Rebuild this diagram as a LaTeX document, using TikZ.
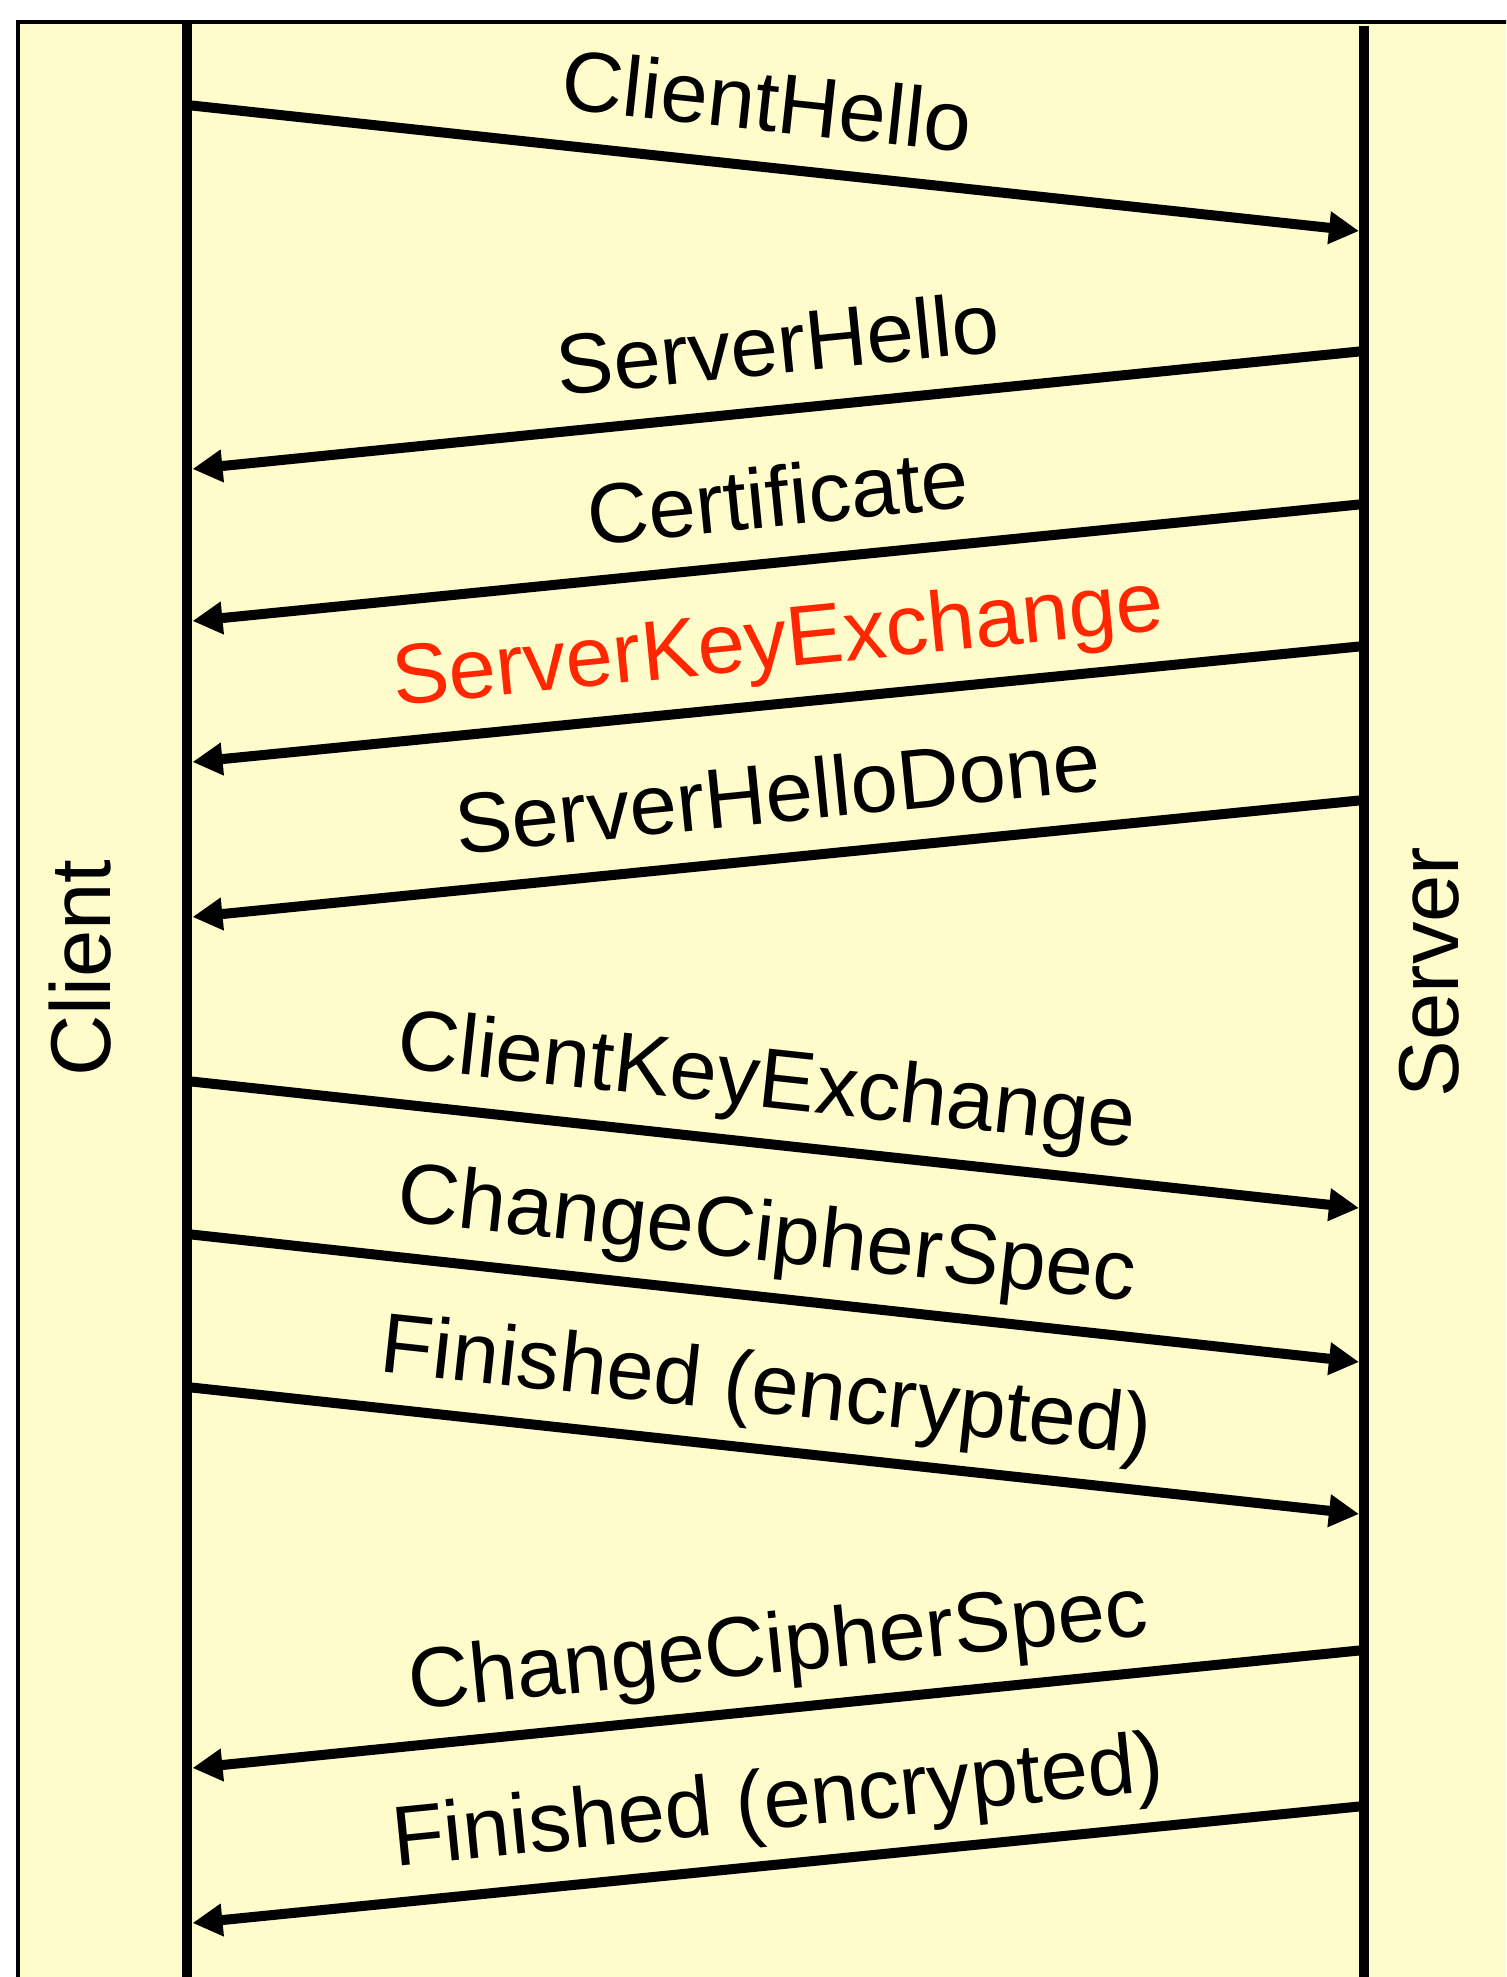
\documentclass[tikz,border=0pt]{standalone}
\usepackage{fontspec}
\setmainfont{Liberation Sans}
\usetikzlibrary{arrows.meta}
\definecolor{notepad}{RGB}{255,252,204}
\definecolor{keyred}{RGB}{255,38,0}
\begin{document}
\begin{tikzpicture}[x=0.5pt,y=-0.5pt,lifeline/.style={line width=5pt},msg/.style={line width=5pt,-{Triangle[length=15pt,width=15.5pt]}},msglabel/.style={pos=#1,sloped,above=18pt,anchor=base,inner sep=0pt,font=\fontsize{42.5}{51}\selectfont},reqlabel/.style={msglabel=0.489},replabel/.style={msglabel=0.495},party/.style={rotate=90,anchor=base,inner sep=0pt,font=\fontsize{42.5}{51}\selectfont}]
\def\cliX{187};
\def\srvX{1364};
\def\cliE{192.5};
\def\srvE{1359};

\useasboundingbox (0,0) rectangle (1506,1977);
\clip (0,0) rectangle (1506,1977);
\filldraw[fill=notepad,line width=2pt] (18,22) rectangle (1540,2010);

\node[party] (clientL) at (110,968) {Client};
\node[party] (serverL) at (1458,972) {Server};

% client -> server
\coordinate (cli1) at (\cliX,105);
\coordinate (srv1) at (\srvE,231);
\draw[msg] (cli1) -- node[reqlabel] (msg1L) {ClientHello} (srv1);

% server -> client
\coordinate (srv2) at (\srvX,351);
\coordinate (cli2) at (\cliE,469);
\draw[msg] (srv2) -- node[replabel] (msg2L) {ServerHello} (cli2);
\coordinate (srv3) at (\srvX,504);
\coordinate (cli3) at (\cliE,621);
\draw[msg] (srv3) -- node[replabel] (msg3L) {Certificate} (cli3);
\coordinate (srv4) at (\srvX,646);
\coordinate (cli4) at (\cliE,762);
\draw[msg] (srv4) -- node[replabel,text=keyred] (msg4L) {ServerKeyExchange} (cli4);
\coordinate (srv5) at (\srvX,800);
\coordinate (cli5) at (\cliE,917);
\draw[msg] (srv5) -- node[replabel] (msg5L) {ServerHelloDone} (cli5);

% client -> server
\coordinate (cli6) at (\cliX,1081);
\coordinate (srv6) at (\srvE,1208);
\draw[msg] (cli6) -- node[reqlabel] (msg6L) {ClientKeyExchange} (srv6);
\coordinate (cli7) at (\cliX,1234);
\coordinate (srv7) at (\srvE,1362);
\draw[msg] (cli7) -- node[reqlabel] (msg7L) {ChangeCipherSpec} (srv7);
\coordinate (cli8) at (\cliX,1387);
\coordinate (srv8) at (\srvE,1514);
\draw[msg] (cli8) -- node[reqlabel] (msg8L) {Finished (encrypted)} (srv8);

% server -> client
\coordinate (srv9) at (\srvX,1650);
\coordinate (cli9) at (\cliE,1768);
\draw[msg] (srv9) -- node[replabel] (msg9L) {ChangeCipherSpec} (cli9);
\coordinate (srv10) at (\srvX,1806);
\coordinate (cli10) at (\cliE,1923);
\draw[msg] (srv10) -- node[replabel] (msg10L) {Finished (encrypted)} (cli10);

% lifelines on top of the message ends
\draw[lifeline] (\cliX,22) -- (\cliX,1990);
\draw[lifeline] (\srvX,26) -- (\srvX,1990);
\end{tikzpicture}
\end{document}
